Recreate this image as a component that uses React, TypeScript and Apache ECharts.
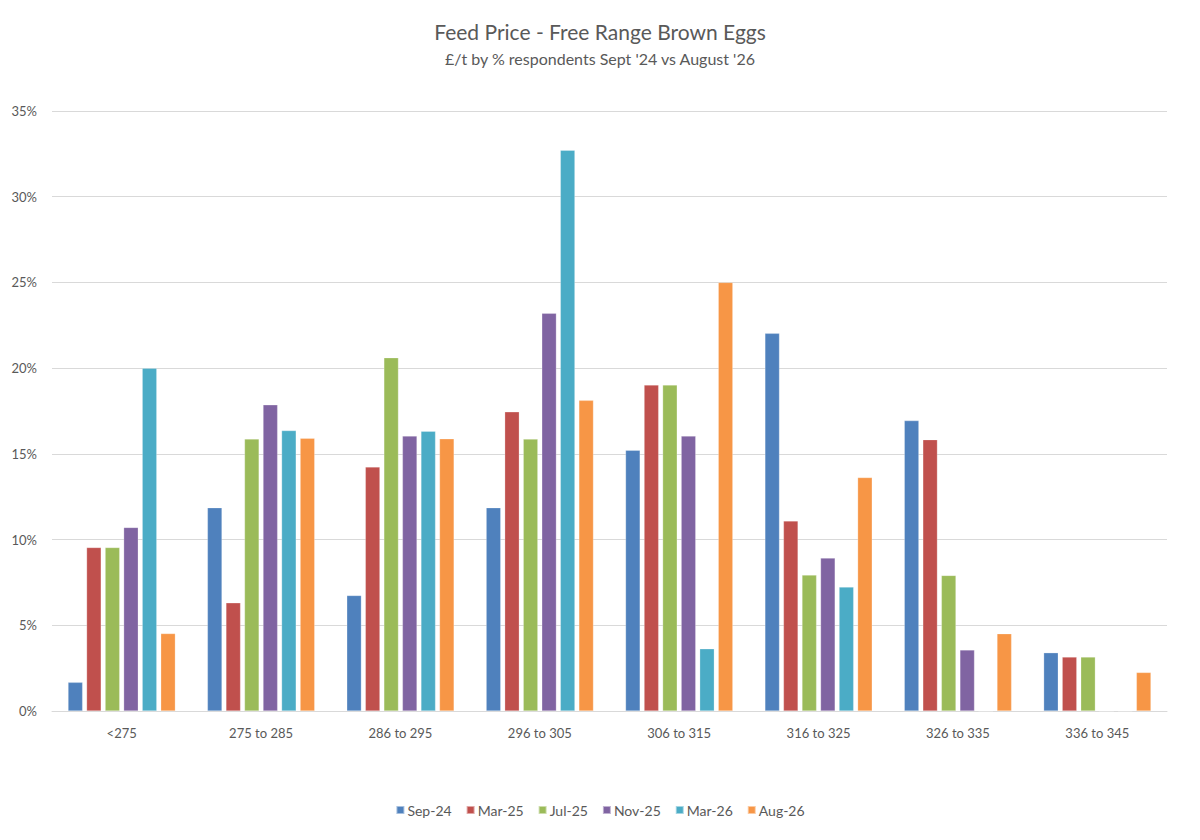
import React, { useEffect, useRef } from "react";
import * as echarts from "echarts";

const categories = ["<275", "275 to 285", "286 to 295", "296 to 305", "306 to 315", "316 to 325", "326 to 335", "336 to 345"];
const seriesNames = ["Sep-24", "Mar-25", "Jul-25", "Nov-25", "Mar-26", "Aug-26"];
const sep24 = [1.67, 11.86, 6.74, 11.86, 15.21, 22.03, 16.94, 3.4];
const mar25 = [9.54, 6.31, 14.24, 17.45, 19.02, 11.09, 15.83, 3.15];
const jul25 = [9.54, 15.87, 20.61, 15.86, 19.02, 7.93, 7.91, 3.15];
const nov25 = [10.71, 17.86, 16.04, 23.2, 16.04, 8.92, 3.56, 0];
const mar26 = [20.0, 16.36, 16.32, 32.71, 3.63, 7.23, 0, 0];
const aug26 = [4.52, 15.91, 15.88, 18.12, 25.0, 13.62, 4.51, 2.25];
const colors = ["#4F81BD", "#C0504D", "#9BBB59", "#8064A2", "#4BACC6", "#F79646"];
const yTicks = { min: 0, max: 35, interval: 5 };

const allData = [sep24, mar25, jul25, nov25, mar26, aug26];

export default function App() {
  const ref = useRef<HTMLDivElement>(null);
  useEffect(() => {
    if (!ref.current) return;
    const chart = echarts.init(ref.current, undefined, { renderer: "svg" });
    const font = "Lato, 'Open Sans', sans-serif";
    chart.setOption({
      animation: false,
      backgroundColor: "#ffffff",
      textStyle: { fontFamily: font },
      title: {
        text: "Feed Price - Free Range Brown Eggs",
        subtext: "£/t by % respondents Sept '24 vs August '26",
        left: "center",
        top: 8,
        itemGap: 8,
        textStyle: { fontFamily: font, fontSize: 21, fontWeight: "normal", color: "#595959" },
        subtextStyle: { fontFamily: font, fontSize: 16, color: "#595959" },
      },
      legend: {
        bottom: 10,
        left: "center",
        itemWidth: 8,
        itemHeight: 8,
        itemGap: 14,
        icon: "rect",
        textStyle: { fontFamily: font, fontSize: 14, color: "#595959", padding: [0, 0, 0, -2] },
        data: seriesNames,
      },
      grid: { left: 44, right: 25, top: 103, bottom: 121, containLabel: false },
      xAxis: {
        type: "category",
        data: categories,
        axisLine: { lineStyle: { color: "#d9d9d9", width: 1 } },
        axisTick: { show: false },
        axisLabel: { color: "#595959", fontSize: 13, margin: 15, fontFamily: font },
      },
      yAxis: {
        type: "value",
        min: yTicks.min,
        max: yTicks.max,
        interval: yTicks.interval,
        axisLine: { show: false },
        axisTick: { show: false },
        splitLine: { lineStyle: { color: "#d9d9d9", width: 1 } },
        axisLabel: { color: "#595959", fontSize: 13, margin: 15, formatter: "{value}%", fontFamily: font },
      },
      series: seriesNames.map((name, i) => ({
        name,
        type: "bar",
        data: allData[i],
        barCategoryGap: "23%",
        barGap: "27%",
        itemStyle: { color: colors[i], borderColor: "rgba(255,255,255,0.5)", borderWidth: 0.5 },
      })),
    });
    return () => chart.dispose();
  }, []);
  return <div ref={ref} style={{ width: 1184, height: 824 }} />;
}
